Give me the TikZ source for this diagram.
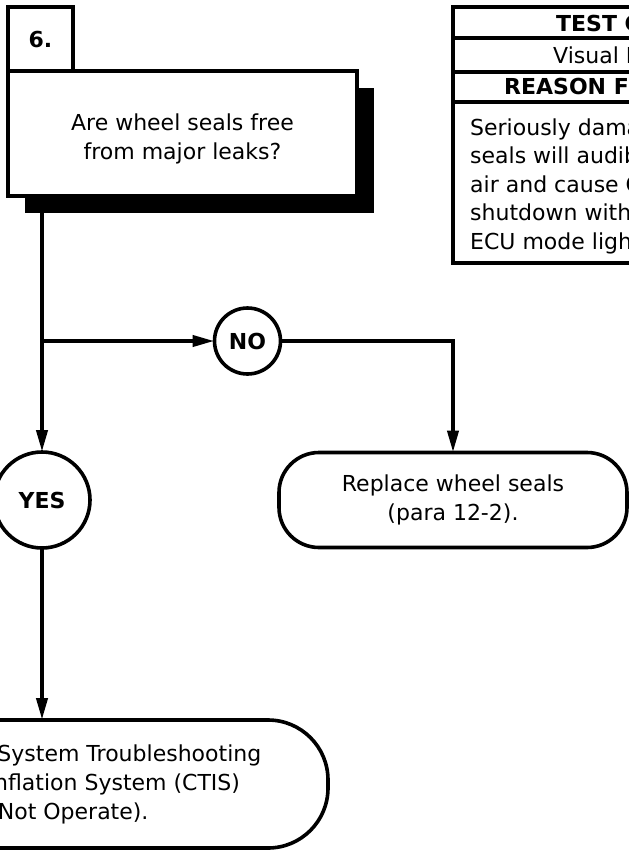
\documentclass[tikz,border=0pt]{standalone}
\usepackage{fontspec}
\setmainfont{DejaVu Sans}
\usetikzlibrary{arrows.meta,positioning,shadows}
\newcommand{\flowfont}{\fontsize{22}{29}\selectfont}
\newcommand{\reasonfont}{\fontsize{22}{28.5}\selectfont}
\tikzset{
  flow box/.style={draw,line width=3.6pt,fill=white,outer sep=0pt,
    inner sep=0pt,align=center,font=\flowfont},
  question box/.style={flow box,minimum width=349pt,minimum height=125pt,
    drop shadow={shadow xshift=17pt,shadow yshift=-17pt,fill=black,
      opacity=1}},
  question text/.style={inner sep=0pt,align=center,font=\flowfont},
  step tab/.style={flow box,minimum width=65pt,minimum height=64pt,
    font=\flowfont\bfseries},
  answer node/.style={flow box,circle,font=\flowfont\bfseries},
  action box/.style={flow box,rounded corners=40pt},
  flow arrow/.style={-{Triangle[length=22pt,width=11pt]},line width=4pt},
  table line/.style={line width=3.6pt},
  table text/.style={inner sep=0pt,anchor=west,align=left,font=\flowfont},
  table head/.style={table text,font=\flowfont\bfseries},
}

\begin{document}
\begin{tikzpicture}[x=1pt,y=-1pt]
  \useasboundingbox (0,0) rectangle (629,852);
  \clip (0,0) rectangle (629,852);

  % Step 6 and its question.
  \node[question box] (question) at (182.5,133.5) {};
  \node[question text] (questiontext) at ([yshift=-5pt]question.center)
    {Are wheel seals free\\from major leaks?};
  \node[step tab,anchor=south west] (steptab) at (question.north west) {6.};

  \node[answer node,minimum size=66pt] (no) at (247.5,341) {NO};
  \node[answer node,minimum size=96pt] (yes) at (42,500) {YES};

  \node[action box,minimum width=348pt,minimum height=95pt] (replace)
    at (453,500) {Replace wheel seals\\(para 12-2).};
  \node[action box,rounded corners=60pt,minimum width=572pt,
    minimum height=128pt] (ctis) at (42,784)
    {Go to Electrical System Troubleshooting\\
     (Central Tire Inflation System (CTIS)\\Does Not Operate).};

  \draw[flow arrow] (question.south -| yes.north) -- (yes.north);
  \draw[flow arrow] (no -| yes) -- (no);
  \draw[flow arrow] (no) -| (replace);
  \draw[flow arrow] (yes) -- (ctis);

  % Test conditions table at the side.
  \draw[table line] (453,7) rectangle (830,263);
  \draw[table line] (453,38) -- (830,38) (453,72) -- (830,72)
    (453,102) -- (830,102);
  \node[table head] (testhead) at (556,23) {TEST CONDITIONS};
  \node[table text] (testcond) at (553,57) {Visual Inspection};
  \node[table head] (reasonhead) at (504,88) {REASON FOR QUESTION};
  \node[table text,font=\reasonfont] (reason) at (470,186)
    {Seriously damaged wheel\\seals will audibly leak\\air and cause CTIS\\
     shutdown with the\\ECU mode light flashing.};
\end{tikzpicture}
\end{document}
